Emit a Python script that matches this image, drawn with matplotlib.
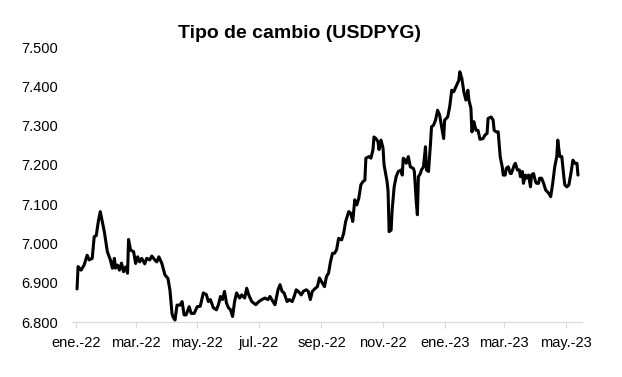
import matplotlib
matplotlib.use("Agg")
import matplotlib.pyplot as plt
import pandas as pd

# tipo de cambio USD/PYG (miles de guaraníes por dólar)
fechas = [
    "2022-01-02", "2022-01-03", "2022-01-06", "2022-01-09", "2022-01-12", "2022-01-14",
    "2022-01-17", "2022-01-19", "2022-01-21", "2022-01-23", "2022-01-25", "2022-01-27",
    "2022-01-29", "2022-02-01", "2022-02-04", "2022-02-06", "2022-02-08", "2022-02-09",
    "2022-02-11", "2022-02-13", "2022-02-15", "2022-02-17", "2022-02-19", "2022-02-21",
    "2022-02-22", "2022-02-24", "2022-02-27", "2022-03-01", "2022-03-03", "2022-03-05",
    "2022-03-07", "2022-03-10", "2022-03-12", "2022-03-15", "2022-03-17", "2022-03-20",
    "2022-03-22", "2022-03-24", "2022-03-27", "2022-03-30", "2022-04-02", "2022-04-04",
    "2022-04-06", "2022-04-07", "2022-04-09", "2022-04-11", "2022-04-14", "2022-04-16",
    "2022-04-18", "2022-04-20", "2022-04-23", "2022-04-25", "2022-04-28", "2022-05-01",
    "2022-05-04", "2022-05-07", "2022-05-10", "2022-05-12", "2022-05-14", "2022-05-17",
    "2022-05-20", "2022-05-22", "2022-05-24", "2022-05-26", "2022-05-28", "2022-05-30",
    "2022-06-01", "2022-06-03", "2022-06-05", "2022-06-07", "2022-06-09", "2022-06-12",
    "2022-06-14", "2022-06-17", "2022-06-19", "2022-06-21", "2022-06-24", "2022-06-28",
    "2022-07-01", "2022-07-04", "2022-07-07", "2022-07-10", "2022-07-12", "2022-07-15",
    "2022-07-17", "2022-07-20", "2022-07-22", "2022-07-24", "2022-07-26", "2022-07-29",
    "2022-07-31", "2022-08-03", "2022-08-05", "2022-08-07", "2022-08-09", "2022-08-12",
    "2022-08-14", "2022-08-17", "2022-08-19", "2022-08-21", "2022-08-23", "2022-08-26",
    "2022-08-28", "2022-08-30", "2022-09-01", "2022-09-04", "2022-09-06", "2022-09-08",
    "2022-09-10", "2022-09-12", "2022-09-14", "2022-09-16", "2022-09-18", "2022-09-21",
    "2022-09-23", "2022-09-25", "2022-09-28", "2022-09-30", "2022-10-02", "2022-10-04",
    "2022-10-06", "2022-10-08", "2022-10-10", "2022-10-12", "2022-10-14", "2022-10-15",
    "2022-10-18", "2022-10-20", "2022-10-22", "2022-10-23", "2022-10-25", "2022-10-27",
    "2022-10-28", "2022-10-30", "2022-11-01", "2022-11-02", "2022-11-05", "2022-11-06",
    "2022-11-07", "2022-11-09", "2022-11-10", "2022-11-12", "2022-11-14", "2022-11-16",
    "2022-11-19", "2022-11-20", "2022-11-21", "2022-11-23", "2022-11-24", "2022-11-26",
    "2022-11-28", "2022-12-01", "2022-12-02", "2022-12-04", "2022-12-05", "2022-12-06",
    "2022-12-08", "2022-12-09", "2022-12-11", "2022-12-13", "2022-12-14", "2022-12-16",
    "2022-12-18", "2022-12-19", "2022-12-21", "2022-12-23", "2022-12-25", "2022-12-27",
    "2022-12-29", "2022-12-31", "2023-01-01", "2023-01-04", "2023-01-06", "2023-01-08",
    "2023-01-10", "2023-01-12", "2023-01-15", "2023-01-16", "2023-01-18", "2023-01-20",
    "2023-01-22", "2023-01-24", "2023-01-25", "2023-01-27", "2023-01-28", "2023-01-30",
    "2023-02-01", "2023-02-03", "2023-02-05", "2023-02-08", "2023-02-10", "2023-02-12",
    "2023-02-13", "2023-02-16", "2023-02-18", "2023-02-19", "2023-02-21", "2023-02-23",
    "2023-02-25", "2023-02-27", "2023-02-28", "2023-03-02", "2023-03-03", "2023-03-05",
    "2023-03-07", "2023-03-08", "2023-03-11", "2023-03-12", "2023-03-14", "2023-03-16",
    "2023-03-17", "2023-03-19", "2023-03-20", "2023-03-22", "2023-03-23", "2023-03-25",
    "2023-03-27", "2023-03-28", "2023-03-30", "2023-04-01", "2023-04-02", "2023-04-04",
    "2023-04-05", "2023-04-07", "2023-04-09", "2023-04-11", "2023-04-14", "2023-04-16",
    "2023-04-18", "2023-04-20", "2023-04-22", "2023-04-23", "2023-04-25", "2023-04-27",
    "2023-04-29", "2023-04-30", "2023-05-02", "2023-05-04", "2023-05-06", "2023-05-08",
    "2023-05-10", "2023-05-12", "2023-05-13",
]
usdpyg = [
    6.884, 6.941, 6.932, 6.945, 6.970, 6.958,
    6.962, 7.017, 7.020, 7.055, 7.081, 7.055,
    7.030, 6.979, 6.958, 6.937, 6.962, 6.937,
    6.945, 6.932, 6.950, 6.928, 6.940, 6.924,
    7.010, 6.983, 6.979, 6.949, 6.966, 6.953,
    6.962, 6.948, 6.962, 6.958, 6.968, 6.958,
    6.953, 6.966, 6.949, 6.920, 6.911, 6.881,
    6.822, 6.813, 6.805, 6.843, 6.843, 6.852,
    6.818, 6.818, 6.839, 6.822, 6.822, 6.839,
    6.840, 6.874, 6.870, 6.852, 6.857, 6.836,
    6.831, 6.844, 6.865, 6.857, 6.878, 6.848,
    6.836, 6.831, 6.814, 6.852, 6.874, 6.861,
    6.869, 6.861, 6.886, 6.869, 6.852, 6.844,
    6.852, 6.857, 6.861, 6.857, 6.865, 6.852,
    6.844, 6.882, 6.895, 6.878, 6.874, 6.852,
    6.857, 6.852, 6.865, 6.882, 6.878, 6.869,
    6.878, 6.882, 6.878, 6.857, 6.878, 6.886,
    6.890, 6.912, 6.903, 6.890, 6.916, 6.924,
    6.954, 6.975, 6.975, 6.984, 7.013, 7.009,
    7.026, 7.056, 7.081, 7.077, 7.056, 7.111,
    7.098, 7.115, 7.149, 7.157, 7.161, 7.217,
    7.221, 7.217, 7.238, 7.271, 7.267, 7.259,
    7.239, 7.263, 7.242, 7.200, 7.157, 7.132,
    7.030, 7.034, 7.085, 7.144, 7.170, 7.183,
    7.187, 7.174, 7.217, 7.212, 7.204, 7.221,
    7.195, 7.191, 7.183, 7.102, 7.073, 7.170,
    7.178, 7.187, 7.195, 7.246, 7.187, 7.183,
    7.255, 7.297, 7.301, 7.314, 7.339, 7.327,
    7.297, 7.267, 7.314, 7.322, 7.348, 7.390,
    7.386, 7.398, 7.415, 7.437, 7.420, 7.386,
    7.365, 7.390, 7.365, 7.344, 7.284, 7.310,
    7.288, 7.288, 7.265, 7.267, 7.276, 7.280,
    7.318, 7.322, 7.314, 7.288, 7.284, 7.284,
    7.221, 7.195, 7.174, 7.174, 7.191, 7.195,
    7.178, 7.178, 7.200, 7.204, 7.187, 7.187,
    7.170, 7.183, 7.153, 7.174, 7.166, 7.174,
    7.144, 7.174, 7.178, 7.157, 7.153, 7.153,
    7.166, 7.166, 7.153, 7.136, 7.128, 7.119,
    7.153, 7.195, 7.221, 7.263, 7.221, 7.221,
    7.170, 7.149, 7.144, 7.149, 7.178, 7.212,
    7.204, 7.204, 7.174,
]

tick_fechas = ["2022-01-01", "2022-03-01", "2022-05-01", "2022-07-01", "2022-09-01",
               "2022-11-01", "2023-01-01", "2023-03-01", "2023-05-01"]
tick_labels = ["ene.-22", "mar.-22", "may.-22", "jul.-22", "sep.-22",
               "nov.-22", "ene.-23", "mar.-23", "may.-23"]
y_ticks = [6.8, 6.9, 7.0, 7.1, 7.2, 7.3, 7.4, 7.5]

plt.rcParams["font.family"] = ["Liberation Sans", "DejaVu Sans"]

fig = plt.figure(figsize=(6.22, 3.77), dpi=100)
ax = fig.add_axes([72 / 622, 1 - 322 / 377, 510 / 622, 275 / 377])

ax.plot(pd.to_datetime(fechas), usdpyg, color="black", lw=2.2,
        solid_joinstyle="round", solid_capstyle="round")

ax.set_ylim(6.8, 7.5)
ax.set_yticks(y_ticks)
ax.set_yticklabels([f"{v:.3f}" for v in y_ticks])
ax.set_xlim(pd.Timestamp("2021-12-28"), pd.Timestamp("2023-05-17"))
ax.set_xticks(pd.to_datetime(tick_fechas))
ax.set_xticklabels(tick_labels)

for s in ["top", "right", "left"]:
    ax.spines[s].set_visible(False)
ax.spines["bottom"].set_color("#d9d9d9")
ax.spines["bottom"].set_linewidth(0.8)

ax.tick_params(axis="x", direction="out", length=4, width=0.8, color="#d9d9d9",
               labelsize=10.5, pad=6, labelcolor="black")
ax.tick_params(axis="y", length=0, labelsize=10.5, pad=10, labelcolor="black")

fig.text(299 / 622, 1 - 33 / 377, "Tipo de cambio (USDPYG)", ha="center", va="center",
         fontsize=14, fontweight="bold")

fig.savefig("out.png", dpi=100)
